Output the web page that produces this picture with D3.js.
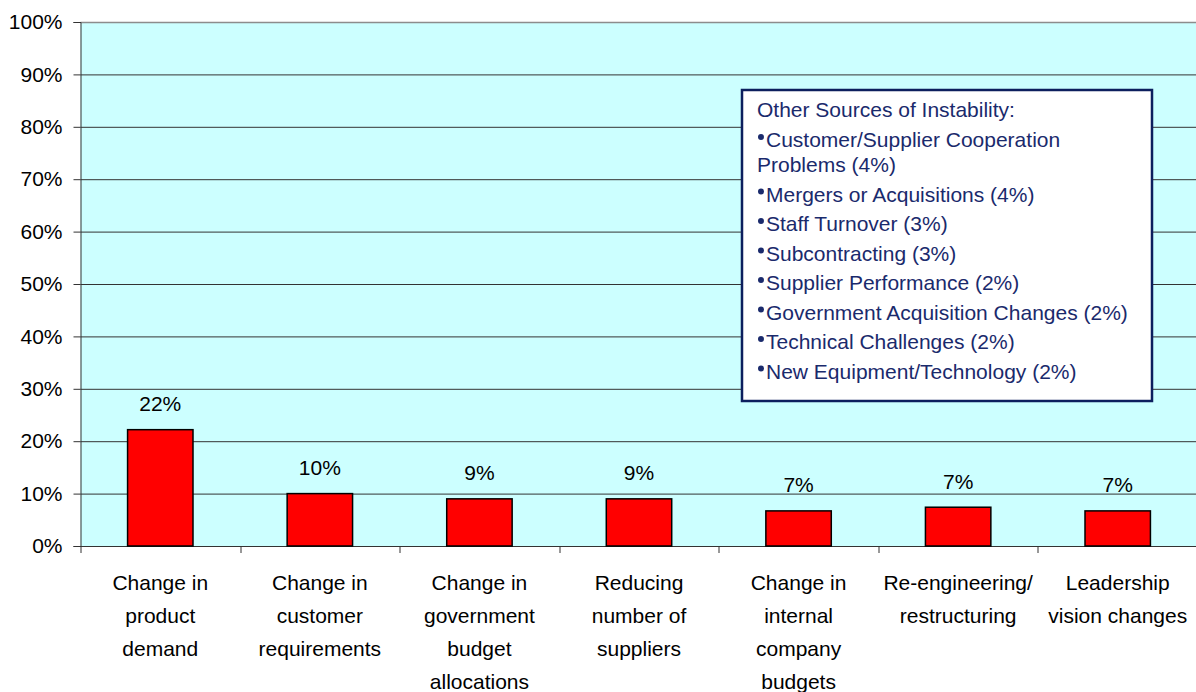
<!DOCTYPE html>
<html>
<head>
<meta charset="utf-8">
<script src="https://cdn.jsdelivr.net/npm/d3@7"></script>
<style>
  body { margin: 0; background: #fff; }
  svg { font-family: Arial, "Liberation Sans", sans-serif; }
</style>
</head>
<body>
<script>
// data
var categories = [
  ["Change in", "product", "demand"],
  ["Change in", "customer", "requirements"],
  ["Change in", "government", "budget", "allocations"],
  ["Reducing", "number of", "suppliers"],
  ["Change in", "internal", "company", "budgets"],
  ["Re-engineering/", "restructuring"],
  ["Leadership", "vision changes"]
];
var values = [22.2, 10.0, 9.0, 9.0, 6.7, 7.4, 6.7];
var valueLabels = ["22%", "10%", "9%", "9%", "7%", "7%", "7%"];
var yTicks = [0, 10, 20, 30, 40, 50, 60, 70, 80, 90, 100];
var boxTitle = "Other Sources of Instability:";
var boxItems = [
  ["Customer/Supplier Cooperation", "Problems (4%)"],
  ["Mergers or Acquisitions (4%)"],
  ["Staff Turnover (3%)"],
  ["Subcontracting (3%)"],
  ["Supplier Performance (2%)"],
  ["Government Acquisition Changes (2%)"],
  ["Technical Challenges (2%)"],
  ["New Equipment/Technology (2%)"]
];

var svgWidth = 1196, svgHeight = 692;
var margin = {top: 22, left: 80.5, bottom: 146};
var chartWidth = 1117;
var chartHeight = svgHeight - margin.top - margin.bottom;
var fontSize = 21;

var svg = d3.select("body").append("svg")
  .attr("width", svgWidth).attr("height", svgHeight);
var chartGroup = svg.append("g")
  .attr("transform", `translate(${margin.left},${margin.top})`);

var xScale = d3.scaleBand().domain(d3.range(categories.length))
  .range([0, chartWidth]).paddingInner(0.59).paddingOuter(0.295);
var yScale = d3.scaleLinear().domain([0, 100]).range([chartHeight, 0]);

// plot background
chartGroup.append("rect")
  .attr("width", chartWidth).attr("height", chartHeight)
  .attr("fill", "#ccffff");

// gridlines
chartGroup.selectAll(".grid").data(yTicks.slice(1)).enter().append("line")
  .attr("x1", 0).attr("x2", chartWidth)
  .attr("y1", d => yScale(d) + 0.5).attr("y2", d => yScale(d) + 0.5)
  .attr("stroke", d => d === 100 ? "#8c8c8c" : "#333").attr("stroke-width", d => d === 100 ? 1.5 : 1);

// y axis
var leftAxis = d3.axisLeft(yScale).tickValues(yTicks)
  .tickFormat(d => d + "%").tickSize(7).tickPadding(11);
var yAxis = chartGroup.append("g").call(leftAxis);
yAxis.select(".domain").attr("stroke", "#333");
yAxis.selectAll("line").attr("stroke", "#333");
yAxis.selectAll("text").attr("font-size", fontSize).attr("fill", "#000")
  .attr("font-family", "Arial, 'Liberation Sans', sans-serif");

// x axis baseline and ticks between categories
var step = xScale.step();
chartGroup.append("line")
  .attr("x1", 0).attr("x2", chartWidth)
  .attr("y1", chartHeight + 0.5).attr("y2", chartHeight + 0.5)
  .attr("stroke", "#333");
chartGroup.selectAll(".xtick").data(d3.range(categories.length + 1)).enter().append("line")
  .attr("x1", d => Math.round(d * step) + 0.5).attr("x2", d => Math.round(d * step) + 0.5)
  .attr("y1", chartHeight).attr("y2", chartHeight + 7)
  .attr("stroke", "#333");

// bars
chartGroup.selectAll(".bar").data(values).enter().append("rect")
  .attr("x", (d, i) => xScale(i))
  .attr("y", d => yScale(d))
  .attr("width", xScale.bandwidth())
  .attr("height", d => chartHeight - yScale(d))
  .attr("fill", "#ff0000").attr("stroke", "#000").attr("stroke-width", 1.5);

// value labels
chartGroup.selectAll(".val").data(values).enter().append("text")
  .attr("x", (d, i) => xScale(i) + xScale.bandwidth() / 2)
  .attr("y", d => yScale(d) - 18.5)
  .attr("text-anchor", "middle").attr("font-size", fontSize).attr("fill", "#000")
  .text((d, i) => valueLabels[i]);

// category labels
categories.forEach((lines, i) => {
  var t = chartGroup.append("text")
    .attr("x", xScale(i) + xScale.bandwidth() / 2)
    .attr("y", chartHeight + 43.5)
    .attr("text-anchor", "middle").attr("font-size", fontSize).attr("fill", "#000");
  lines.forEach((s, j) => {
    t.append("tspan").attr("x", xScale(i) + xScale.bandwidth() / 2)
      .attr("dy", j === 0 ? 0 : 33).text(s);
  });
});

// text box with other sources
var box = svg.append("g").attr("transform", "translate(742,90)");
box.append("rect").attr("width", 410).attr("height", 311)
  .attr("fill", "#fff").attr("stroke", "#0c1f5e").attr("stroke-width", 2.5);
var navy = "#1a2a6c";
box.append("text").attr("x", 15).attr("y", 27).attr("font-size", fontSize)
  .attr("fill", navy).text(boxTitle);
var yPos = 57;
boxItems.forEach(lines => {
  lines.forEach((s, j) => {
    box.append("text").attr("x", j === 0 ? 24 : 15).attr("y", yPos)
      .attr("font-size", fontSize).attr("fill", navy).text(s);
    if (j === 0) {
      box.append("circle").attr("cx", 19).attr("cy", yPos - 10).attr("r", 3).attr("fill", navy);
    }
    if (j < lines.length - 1) yPos += 25;
  });
  yPos += 29.5;
});
</script>
</body>
</html>
